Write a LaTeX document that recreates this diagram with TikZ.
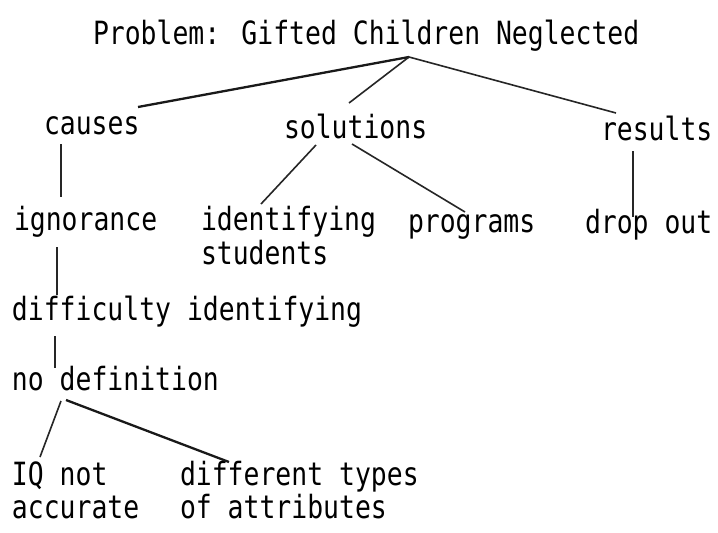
\documentclass[tikz,border=0pt]{standalone}
\usepackage{fontspec}
\setmainfont{DejaVu Sans Mono}[FakeStretch=0.826]
\begin{document}
\begin{tikzpicture}[x=1pt,y=-1pt,
  lbl/.style={anchor=base west,inner sep=0pt,outer sep=0pt,font=\fontsize{32}{36}\selectfont},
  br/.style={line width=1.6pt,draw=black!85},
  brthick/.style={line width=2.3pt,draw=black!90}]
\fill[white] (0,0) rectangle (718,533);
\useasboundingbox (0,0) rectangle (718,533);
% texts
\node[lbl] (title) at (93,44) {Problem: Gifted Children Neglected};
\node[lbl] (causes) at (44,134) {causes};
\node[lbl] (solutions) at (284,138) {solutions};
\node[lbl] (results) at (601,140) {results};
\node[lbl] (ignorance) at (14,230) {ignorance};
\node[lbl] (identifying) at (201,230) {identifying};
\node[lbl] (students) at (201,264) {students};
\node[lbl] (programs) at (408,232) {programs};
\node[lbl] (dropout) at (585,233) {drop out};
\node[lbl] (difficulty) at (12,320) {difficulty identifying};
\node[lbl] (nodef) at (12,390) {no definition};
\node[lbl] (iq) at (12,485) {IQ not};
\node[lbl] (accurate) at (12,518) {accurate};
\node[lbl] (types) at (180,485) {different types};
\node[lbl] (attributes) at (180,518) {of attributes};
% connector end points
\coordinate (apex) at (409,57);
\coordinate (causesT) at (138,107);
\coordinate (solutionsT) at (349,103);
\coordinate (resultsT) at (616,113);
\coordinate (causesB) at (61,144);
\coordinate (ignoranceT) at (61,197);
\coordinate (solutionsBL) at (316,145);
\coordinate (identifyingT) at (261,204);
\coordinate (solutionsBR) at (352,144);
\coordinate (programsT) at (465,212);
\coordinate (resultsB) at (633,151);
\coordinate (dropoutT) at (633,217);
\coordinate (ignoranceB) at (57,247);
\coordinate (difficultyT) at (57,295);
\coordinate (difficultyB) at (55,336);
\coordinate (nodefT) at (55,368);
\coordinate (nodefBL) at (61,401);
\coordinate (iqT) at (40,457);
\coordinate (nodefBR) at (66,400);
\coordinate (typesT) at (229,462);
% connectors
\draw[brthick] (apex) -- (causesT);
\draw[br] (apex) -- (solutionsT);
\draw[br] (apex) -- (resultsT);
\draw[br] (causesB) -- (ignoranceT);
\draw[br] (solutionsBL) -- (identifyingT);
\draw[br] (solutionsBR) -- (programsT);
\draw[br] (resultsB) -- (dropoutT);
\draw[br] (ignoranceB) -- (difficultyT);
\draw[br] (difficultyB) -- (nodefT);
\draw[br] (nodefBL) -- (iqT);
\draw[brthick] (nodefBR) -- (typesT);
\end{tikzpicture}
\end{document}
